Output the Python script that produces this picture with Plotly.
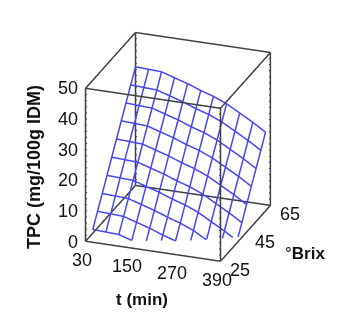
import plotly.graph_objects as go

t_min = [30, 65, 99.5, 134, 169, 204, 238, 273, 308, 343, 377]
brix = [65, 61.2, 57.4, 53.6, 49.8, 46, 42.2, 38.4, 34.6, 30.8]
tpc = [
    [38.8, 38.6, 38.4, 37.1, 35.8, 34.2, 32.9, 31.1, 28.7, 26.3, 23.7],
    [34.6, 34.4, 34.2, 32.9, 31.6, 30.0, 28.7, 26.9, 24.5, 22.1, 19.5],
    [30.4, 30.2, 30.0, 28.7, 27.4, 25.8, 24.5, 22.7, 20.3, 17.9, 15.3],
    [26.3, 26.1, 25.9, 24.6, 23.3, 21.7, 20.4, 18.6, 16.2, 13.8, 11.2],
    [22.1, 21.9, 21.7, 20.4, 19.1, 17.5, 16.2, 14.4, 12.0, 9.6, 7.0],
    [17.9, 17.7, 17.5, 16.2, 14.9, 13.3, 12.0, 10.2, 7.8, 5.4, 2.8],
    [13.7, 13.5, 13.3, 12.0, 10.7, 9.1, 7.8, 6.0, 3.6, 1.2, -1.4],
    [9.5, 9.3, 9.1, 7.8, 6.5, 4.9, 3.6, 1.8, -0.6, -3.0, -5.6],
    [5.4, 5.2, 5.0, 3.7, 2.4, 0.8, -0.5, -2.3, -4.7, -7.1, -9.7],
    [1.2, 1.0, 0.8, -0.5, -1.8, -3.4, -4.7, -6.5, -8.9, -11.3, -13.9],
]
x_ticks = [30, 150, 270, 390]
y_ticks = [25, 45, 65]
z_ticks = [0, 10, 20, 30, 40, 50]
X0, X1 = x_ticks[0], x_ticks[-1]
Y0, Y1 = y_ticks[0], y_ticks[-1]
Z0, Z1 = z_ticks[0], z_ticks[-1]

MESH = "#4646f5"
FONT = "Liberation Sans, Arial, sans-serif"
EDGE = "#404040"
TEXT = "#111111"

fig = go.Figure()

mx, my, mz = [], [], []
for i, b in enumerate(brix):
    for j, t in enumerate(t_min):
        mx.append(t); my.append(b); mz.append(tpc[i][j])
    mx.append(None); my.append(None); mz.append(None)
for j, t in enumerate(t_min):
    for i, b in enumerate(brix):
        mx.append(t); my.append(b); mz.append(tpc[i][j])
    mx.append(None); my.append(None); mz.append(None)
fig.add_trace(go.Scatter3d(x=mx, y=my, z=mz, mode="lines", hoverinfo="skip",
                           line=dict(color=MESH, width=3), connectgaps=False))

bx, by, bz = [], [], []
def seg(p, q):
    bx.extend([p[0], q[0], None]); by.extend([p[1], q[1], None]); bz.extend([p[2], q[2], None])
for y in (Y0, Y1):
    for z in (Z0, Z1):
        seg((X0, y, z), (X1, y, z))
for x in (X0, X1):
    for z in (Z0, Z1):
        seg((x, Y0, z), (x, Y1, z))
for x in (X0, X1):
    for y in (Y0, Y1):
        seg((x, y, Z0), (x, y, Z1))
fig.add_trace(go.Scatter3d(x=bx, y=by, z=bz, mode="lines", hoverinfo="skip",
                           line=dict(color=EDGE, width=3)))

tx, ty, tz = [], [], []
for z in range(Z0, Z1 + 1, 2):
    for x, y in ((X1, Y0), (X0, Y1), (X1, Y1), (X0, Y0)):
        tx.extend([x, x + (4 if x == X0 else -4), None]); ty.extend([y, y, None]); tz.extend([z, z, None])
fig.add_trace(go.Scatter3d(x=tx, y=ty, z=tz, mode="lines", hoverinfo="skip",
                           line=dict(color=EDGE, width=2)))

hidden = dict(visible=False, showgrid=False, zeroline=False, showbackground=False,
              showspikes=False, showticklabels=False, ticks="", title=dict(text=""))

def label(x, y, z, s, dx, dy, anchor="center"):
    return dict(x=x, y=y, z=z, text=str(s), showarrow=False, xshift=dx, yshift=dy, xanchor=anchor,
                font=dict(family=FONT, size=18, color=TEXT))

labels = [label(t, Y0, Z0, t, -4, -18) for t in x_ticks]
labels += [label(X1, b, Z0, b, 19, -8) for b in y_ticks]
labels += [label(X0, Y0, z, z, -6, 0, "right") for z in z_ticks]

pad = 0.01
def title(text, px, py, size, angle=0):
    return dict(text=text, x=px / 344, y=1 - py / 332, xref="paper", yref="paper",
                xanchor="center", yanchor="middle", showarrow=False, textangle=angle,
                font=dict(family=FONT, size=size, color=TEXT))

CZ = -0.057
D = 2.18
fig.update_layout(
    width=344, height=332, margin=dict(l=0, r=0, t=0, b=0),
    paper_bgcolor="white", showlegend=False,
    scene=dict(
        xaxis=dict(hidden, range=[X0 - (X1 - X0) * pad, X1 + (X1 - X0) * pad]),
        yaxis=dict(hidden, range=[Y0 - (Y1 - Y0) * pad, Y1 + (Y1 - Y0) * pad]),
        zaxis=dict(hidden, range=[Z0 - (Z1 - Z0) * pad, Z1 + (Z1 - Z0) * pad]),
        aspectmode="manual", aspectratio=dict(x=1, y=1.016, z=1.166),
        camera=dict(projection=dict(type="orthographic"),
                    eye=dict(x=0.3124 * D, y=-0.858 * D, z=0.407 * D + CZ),
                    up=dict(x=0, y=0, z=1), center=dict(x=0, y=0, z=CZ)),
        domain=dict(x=[0.018, 0.972], y=[0.116, 1]),
        annotations=labels,
    ),
    annotations=[
        title("<b>TPC (mg/100g IDM)</b>", 26, 159, 18, -90),
        title("<b>t (min)</b>", 134, 291, 17),
        title("°<b>Brix</b>", 297, 245, 17),
    ],
)
fig.write_html("out.html")
